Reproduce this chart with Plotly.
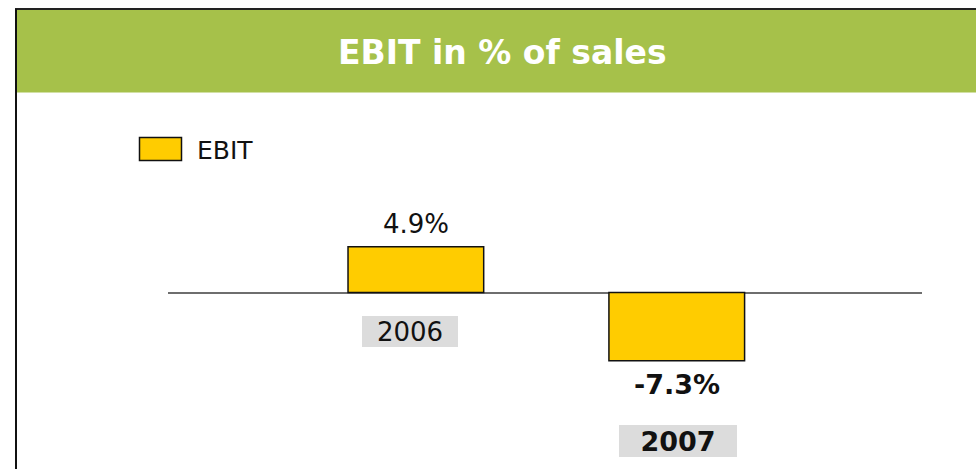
import plotly.graph_objects as go

categories = ["2006", "2007"]
ebit_values = [4.9, -7.3]
value_labels = ["4.9%", "-7.3%"]
series_name = "EBIT"
title_text = "EBIT in % of sales"

W, H = 976, 469
FONT = "DejaVu Sans"

def px(x):
    return x / W

def py(y):
    return 1 - y / H

fig = go.Figure()
fig.add_trace(go.Bar(
    x=categories, y=ebit_values, width=0.52, name=series_name,
    marker=dict(color="#FFCC00", line=dict(color="#111111", width=1.5)),
    showlegend=False, hoverinfo="skip",
))

# y scale: px per unit ~9.34, zero at y=292.5
zero_px = 292.5
ppu = 9.34
top_px = 100.0
y_top = (zero_px - top_px) / ppu
y_bot = (zero_px - H) / ppu

fig.update_layout(
    width=W, height=H,
    margin=dict(l=0, r=0, t=0, b=0),
    paper_bgcolor="white", plot_bgcolor="white",
    xaxis=dict(domain=[px(168), px(922)], range=[-0.95, 1.94], type="category",
               showgrid=False, showticklabels=False, zeroline=False, showline=False, ticks=""),
    yaxis=dict(domain=[0, py(top_px)], range=[y_bot, y_top], showgrid=False,
               showticklabels=False, zeroline=True, zerolinecolor="#6E6E6E",
               zerolinewidth=1.5, showline=False, ticks=""),
    font=dict(family=FONT, color="#111111"),
    showlegend=False,
)

shapes = [
    # green header band
    dict(type="rect", xref="paper", yref="paper", x0=px(16), x1=1, y0=py(92.5), y1=py(9),
         fillcolor="#A6C14A", line=dict(width=0), layer="below"),
    # frame top
    dict(type="line", xref="paper", yref="paper", x0=px(15), x1=1, y0=py(9), y1=py(9),
         line=dict(color="#222222", width=2)),
    # frame left
    dict(type="line", xref="paper", yref="paper", x0=px(16), x1=px(16), y0=0, y1=py(9),
         line=dict(color="#111111", width=2)),
    # legend swatch
    dict(type="rect", xref="paper", yref="paper", x0=px(139.5), x1=px(181.5), y0=py(160.5), y1=py(137.5),
         fillcolor="#FFCC00", line=dict(color="#111111", width=1.5)),
]

annotations = [
    dict(text="<b>" + title_text + "</b>", xref="paper", yref="paper", x=px(502), y=py(52),
         xanchor="center", yanchor="middle", showarrow=False,
         font=dict(family=FONT, size=33, color="white")),
    dict(text=series_name, xref="paper", yref="paper", x=px(195), y=py(150),
         xanchor="left", yanchor="middle", showarrow=False,
         font=dict(family=FONT, size=25, color="#111111")),
    # value labels
    dict(text=value_labels[0], x=0, y=ebit_values[0], xref="x", yref="y",
         xanchor="center", yanchor="bottom", yshift=6, showarrow=False,
         font=dict(family=FONT, size=26, color="#111111")),
    dict(text="<b>" + value_labels[1] + "</b>", x=1, y=ebit_values[1], xref="x", yref="y",
         xanchor="center", yanchor="top", yshift=-6, showarrow=False,
         font=dict(family=FONT, size=27, color="#111111")),
    # category labels
    dict(text=categories[0], x=0, xref="x", yref="paper", y=py(331.5), xshift=-6,
         xanchor="center", yanchor="middle", showarrow=False, bgcolor="#DCDCDC",
         width=96, height=31, borderpad=0, borderwidth=0,
         font=dict(family=FONT, size=26, color="#111111")),
    dict(text="<b>" + categories[1] + "</b>", x=1, xref="x", yref="paper", y=py(441), xshift=1,
         xanchor="center", yanchor="middle", showarrow=False, bgcolor="#DCDCDC",
         width=118, height=32, borderpad=0, borderwidth=0,
         font=dict(family=FONT, size=27, color="#111111")),
]

fig.update_layout(shapes=shapes, annotations=annotations)
fig.write_html("out.html")
